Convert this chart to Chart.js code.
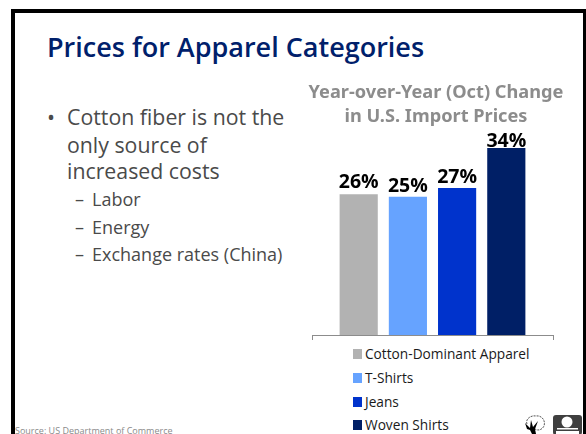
<!DOCTYPE html>
<html>
<head>
<meta charset="utf-8">
<title>Prices for Apparel Categories</title>
<script src="https://cdn.jsdelivr.net/npm/chart.js@4"></script>
<style>
  html, body { margin: 0; padding: 0; background: #fff; }
  body { width: 586px; height: 434px; position: relative; overflow: hidden; font-family: "Open Sans", sans-serif; }
  #frame { position: absolute; left: 11px; top: 9px; width: 600px; height: 500px; border: 4px solid #000; border-right: none; border-bottom: none; box-sizing: border-box; }
  #frameRight { position: absolute; left: 583px; top: 9px; width: 3px; height: 425px; background: #000; }
  h1 { position: absolute; left: 47px; top: 28px; margin: 0; font-size: 27px; font-weight: 600; color: #00206b; white-space: nowrap; }
  .t { position: absolute; color: #4a4a4a; white-space: nowrap; }
  .big { font-size: 21.3px; left: 67px; }
  .sub { font-size: 18px; left: 92px; }
  #source { position: absolute; left: 15px; top: 424px; font-size: 9px; color: #8a8a8a; white-space: nowrap; }
  #chartBox { position: absolute; left: 296px; top: 70px; }
  #myChart { display: block; }
  #chartTitle { position: absolute; left: 296px; top: 79px; width: 280px; text-align: center; font-family: "Noto Sans", sans-serif; font-size: 18.2px; font-weight: 700; line-height: 24px; color: #8c8c8c; white-space: nowrap; }
  #legend { position: absolute; left: 353px; top: 344px; }
  .row { position: absolute; left: 0; height: 20px; white-space: nowrap; font-size: 13.7px; line-height: 20px; color: #1a1a1a; }
  .row i { position: absolute; left: 0; top: 5px; width: 9px; height: 10px; }
  .row span { position: absolute; left: 12px; top: 0; }
  #logos { position: absolute; left: 524px; top: 414px; }
</style>
</head>
<body>
<div id="frame"></div>
<div id="frameRight"></div>
<h1>Prices for Apparel Categories</h1>
<div class="t big" style="left:47px;top:102px">•</div>
<div class="t big" style="top:102px">Cotton fiber is not the</div>
<div class="t big" style="top:130px">only source of</div>
<div class="t big" style="top:156px">increased costs</div>
<div class="t sub" style="left:75px;top:187px">–</div>
<div class="t sub" style="top:187px">Labor</div>
<div class="t sub" style="left:75px;top:215px">–</div>
<div class="t sub" style="top:215px">Energy</div>
<div class="t sub" style="left:75px;top:242px">–</div>
<div class="t sub" style="top:242px">Exchange rates (China)</div>
<div id="chartBox"><canvas id="myChart" width="274" height="270"></canvas></div>
<div id="chartTitle"></div>
<div id="legend"></div>
<div id="source">Source: US Department of Commerce</div>
<svg id="logos" width="62" height="20" viewBox="0 0 62 20">
  <path d="M3 10 C1 5 7 1 12 2 C17 1 22 6 20 12 C18 16 14 17 11 15" fill="none" stroke="#555" stroke-width="1" stroke-dasharray="2 1"/>
  <path d="M1 9 L6 14 L7 6 L9 13 L14 7 L11 15 L12 20 L8 20 L6 16 L3 15 Z" fill="#000"/>
  <rect x="29" y="1" width="29" height="20" rx="3" fill="#3f3f3f"/>
  <circle cx="43" cy="8" r="5.5" fill="#fff"/>
  <rect x="33" y="14" width="21" height="1.5" fill="#fff"/>
  <rect x="32" y="17" width="23" height="3" fill="#fff"/>
</svg>
<script>
const categories = ['Cotton-Dominant Apparel', 'T-Shirts', 'Jeans', 'Woven Shirts'];
const changeValues = [25.7, 25.2, 26.8, 34.1];
const barColors = ['#b2b2b2', '#66a3ff', '#0033cc', '#001f66'];
const titleLines = ['Year-over-Year (Oct) Change', 'in U.S. Import Prices'];

// gap between bar top and its label, the source slide nudged these by hand
const labelGaps = [2, 1, 1, -3];

// value labels above each bar, no datalabels plugin here
const barLabels = {
    id: 'barLabels',
    afterDatasetsDraw(chart) {
        const ctx = chart.ctx;
        ctx.save();
        ctx.font = '700 19.5px "Open Sans"';
        ctx.fillStyle = '#000';
        ctx.textAlign = 'center';
        ctx.textBaseline = 'bottom';
        chart.data.datasets.forEach((ds, i) => {
            const bar = chart.getDatasetMeta(i).data[0];
            ctx.fillText(Math.round(ds.data[0]) + '%', bar.x, bar.y - labelGaps[i]);
        });
        ctx.restore();
    }
};

new Chart(document.getElementById('myChart').getContext('2d'), {
    type: 'bar',
    data: {
        labels: ['Change'],
        datasets: categories.map((name, i) => ({
            label: name,
            data: [changeValues[i]],
            backgroundColor: barColors[i],
            barPercentage: 0.7755,
            categoryPercentage: 0.8167
        }))
    },
    options: {
        responsive: false,
        animation: false,
        layout: { padding: { left: 16, right: 17, top: 60, bottom: 0 } },
        plugins: {
            legend: { display: false },
            tooltip: { enabled: false }
        },
        scales: {
            x: {
                grid: { offset: true, drawOnChartArea: false, drawTicks: true, tickLength: 5, color: '#8c8c8c' },
                border: { color: '#8c8c8c', width: 1 },
                ticks: { display: false }
            },
            y: { display: false, min: 0, max: 37.4 }
        }
    },
    plugins: [barLabels]
});

// title sits in the page, the title plugin squeezes the long line to the padded width
document.getElementById('chartTitle').innerHTML = titleLines.join('<br>');

// legend is a plain column under the axis
const legend = document.getElementById('legend');
categories.forEach((name, i) => {
    const row = document.createElement('div');
    row.className = 'row';
    row.style.top = [0, 24, 48, 71][i] + 'px';
    row.innerHTML = `<i style="background:${barColors[i]}"></i><span>${name}</span>`;
    legend.appendChild(row);
});
</script>
</body>
</html>
